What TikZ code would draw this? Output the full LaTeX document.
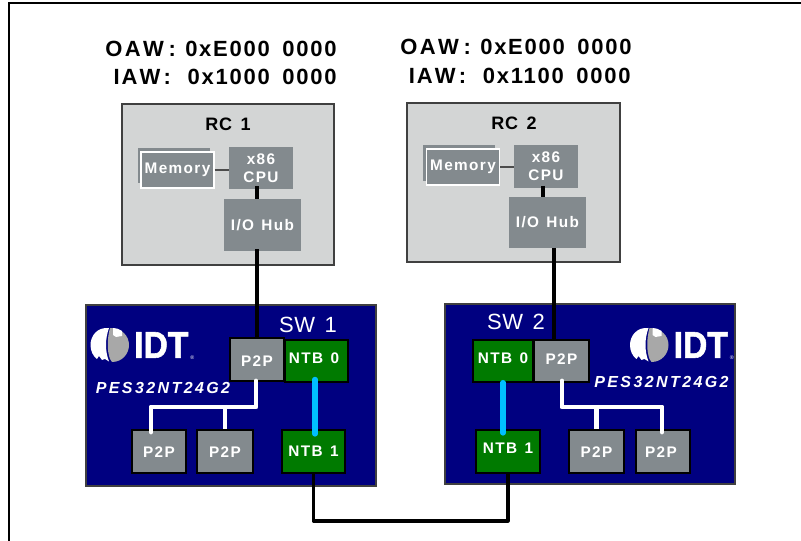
\documentclass[tikz,border=0pt]{standalone}
\usepackage{fontspec}
\setmainfont{Liberation Sans}
\newfontfamily\awfont[LetterSpace=8,WordSpace=1.6]{Liberation Sans}
\newfontfamily\chipfont[LetterSpace=9,WordSpace=1.3]{Liberation Sans}
\newfontfamily\rcfont[LetterSpace=4,WordSpace=1.5]{Liberation Sans}
\newfontfamily\partfont[LetterSpace=15]{Liberation Sans}
\newfontfamily\swfont[LetterSpace=3]{Liberation Sans}
\newfontfamily\logofont[BoldFeatures={FakeBold=1.5,FakeStretch=0.9}]{Liberation Sans}
\definecolor{rcgray}{HTML}{D3D5D5}
\definecolor{chipgray}{HTML}{838A8E}
\definecolor{swnavy}{HTML}{000080}
\definecolor{ntbgreen}{HTML}{007A00}
\definecolor{linkcyan}{HTML}{00BFFF}
\definecolor{logogray}{HTML}{A8A8A8}
\newcommand{\oawtext}{O\kern1.8pt A\kern1.8pt W\kern3.5pt:\hspace{7pt}}
\newcommand{\iawtext}{I\kern1.3pt A\kern1.6pt W\kern2.5pt:\hspace{12.5pt}}
\tikzset{
    rcbox/.style={draw=black!75,line width=0.9pt,fill=rcgray},
    swbox/.style={draw=black!75,line width=0.9pt,fill=swnavy},
    chipbox/.style={fill=chipgray,text=white,align=center,inner sep=0pt,font=\chipfont\bfseries\fontsize{11.5}{13.5}\selectfont},
    membox/.style={chipbox,draw=white,line width=0.9pt},
    p2pbox/.style={chipbox,draw=black,line width=0.9pt},
    ntbbox/.style={p2pbox,fill=ntbgreen},
    textlift/.style={text height=#1,text depth=0pt},
    awlabel/.style={font=\awfont\bfseries\fontsize{16.5}{18}\selectfont,inner sep=0pt},
    rclabel/.style={font=\rcfont\bfseries\fontsize{13.5}{14}\selectfont,inner sep=0pt},
    swlabel/.style={font=\swfont\fontsize{16.5}{18}\selectfont,text=white,inner sep=0pt},
    partlabel/.style={font=\partfont\bfseries\itshape\fontsize{12}{13}\selectfont,text=white,inner sep=0pt},
    blackbus/.style={line width=2.6pt,black},
    thinbus/.style={line width=2.3pt,black},
    whitebus/.style={line width=3.7pt,white,line cap=round,line join=round},
    cyanbus/.style={line width=3.9pt,linkcyan,line cap=round},
    pics/idtlogo/.style={code={
        \fill[white] (-1,-17) .. controls (-13,-18) and (-19.5,-9) .. (-19.5,0) .. controls (-19.5,6) and (-17,11) .. (-13,14) -- (-11,11) -- (-8,15) -- (-5,14) -- (-1,16.5) .. controls (-5,6) and (-5,-6) .. (-1,-17);
        \fill[logogray] (0,-17) .. controls (12,-17) and (19,-9) .. (19,0) .. controls (19,9) and (12,17) .. (2,17) -- (0,14) .. controls (-3,6) and (-3,-6) .. (0,-17);
        \fill[white] (3,-17) -- (3,-10) -- (6,-8) -- (12,-9) -- (12,-14) .. controls (9,-16) and (6,-17) .. (3,-17);
        \node[text=white,inner sep=0pt,anchor=west,font=\logofont\bfseries\fontsize{28}{28}\selectfont] (-name) at (24,0) {IDT};
        \node[text=white,inner sep=0pt,anchor=west,font=\fontsize{4}{4}\selectfont] (-mark) at (80,13) {®};
    }},
}
\begin{document}
\begin{tikzpicture}[x=0.75pt,y=-0.75pt]
    \useasboundingbox (0,0) rectangle (801,541);
    \coordinate (frameb) at (9,541);
    \coordinate (framec) at (9,3);
    \coordinate (framer) at (801,3);
    \draw[line width=1.9pt] (frameb)--(framec)--(framer);

    % address windows
    \node[awlabel,anchor=east] (oawone) at (337,49) {\oawtext 0xE000 0000};
    \node[awlabel,anchor=east] (iawone) at (337,77) {\iawtext 0x1000 0000};
    \node[awlabel,anchor=east] (oawtwo) at (632,47) {\oawtext 0xE000 0000};
    \node[awlabel,anchor=east] (iawtwo) at (631,76) {\iawtext 0x1100 0000};

    % root complex 1
    \draw[rcbox] (122,104) rectangle (334,265);
    \node[rclabel] (rcone) at (228,124) {RC 1};
    \fill[chipgray] (138,148) rectangle (210,183);
    \node[membox,minimum width=73pt*0.75,minimum height=36pt*0.75] (memone) at (177.5,170) {Memory};
    \node[chipbox,minimum width=64pt*0.75,minimum height=42pt*0.75] (cpuone) at (261,168) {x86\\CPU};
    \node[chipbox,minimum width=77pt*0.75,minimum height=52pt*0.75] (hubone) at (262.5,225) {I/O Hub};
    \draw[line width=1.5pt,black!70] (memone.east)--(memone.east -| cpuone.west);

    % root complex 2
    \draw[rcbox] (407,103) rectangle (620,262);
    \node[rclabel] (rctwo) at (514,123) {RC 2};
    \fill[chipgray] (423,145) rectangle (495,181);
    \node[membox,minimum width=73pt*0.75,minimum height=36pt*0.75] (memtwo) at (463,167) {Memory};
    \node[chipbox,minimum width=64pt*0.75,minimum height=43pt*0.75] (cputwo) at (546,166.5) {x86\\CPU};
    \node[chipbox,minimum width=77pt*0.75,minimum height=51pt*0.75] (hubtwo) at (547.5,222.5) {I/O Hub};
    \draw[line width=1.5pt,black!70] (memtwo.east)--(memtwo.east -| cputwo.west);

    % switch 1
    \draw[swbox] (86,305) rectangle (376,486);
    \node[swlabel] (swone) at (308,325) {SW\ \hspace{2pt}1};
    \pic (logoone) at (110,345) {idtlogo};
    \node[partlabel] (partone) at (163,388) {PES32NT24G2};
    \node[p2pbox,textlift=10.4pt,minimum width=54pt*0.75,minimum height=43pt*0.75] (p2pone) at (257,359.5) {P2P};
    \node[ntbbox,textlift=3.8pt,minimum width=63pt*0.75,minimum height=42pt*0.75] (ntbzero) at (316.5,361) {NTB 0\kern3.7pt};
    \node[p2pbox,textlift=9.7pt,minimum width=54pt*0.75,minimum height=43pt*0.75] (p2poa) at (159,451.5) {P2P};
    \node[p2pbox,textlift=9.7pt,minimum width=56pt*0.75,minimum height=43pt*0.75] (p2pob) at (225,451.5) {P2P};
    \node[ntbbox,minimum width=63pt*0.75,minimum height=43pt*0.75] (ntbone) at (313.5,451.5) {NTB 1};

    % switch 2
    \draw[swbox] (445,304) rectangle (735,484);
    \node[swlabel] (swtwo) at (516,322) {SW\ \hspace{2pt}2};
    \pic (logotwo) at (649.5,345) {idtlogo};
    \node[partlabel] (parttwo) at (661.5,382) {PES32NT24G2};
    \node[ntbbox,textlift=3.8pt,minimum width=60pt*0.75,minimum height=42pt*0.75] (ntbtwo) at (503,361) {NTB 0};
    \node[p2pbox,textlift=5.2pt,minimum width=55pt*0.75,minimum height=42pt*0.75] (p2ptwo) at (561.5,361) {P2P};
    \node[ntbbox,textlift=3pt,minimum width=64pt*0.75,minimum height=43pt*0.75] (ntbthree) at (508,451.5) {NTB 1};
    \node[p2pbox,textlift=9.7pt,minimum width=55pt*0.75,minimum height=43pt*0.75] (p2pta) at (596.5,451.5) {P2P};
    \node[p2pbox,textlift=9.7pt,minimum width=54pt*0.75,minimum height=43pt*0.75] (p2ptb) at (663,451.5) {P2P\kern3pt};

    % links between chips
    \coordinate (cputap) at (543,186);
    \coordinate (hubtap) at (554,248);
    \coordinate (p2ptap) at (554,340);
    \draw[blackbus] (p2pone.north |- cpuone.south)++(0,-3)--(p2pone.north |- hubone.north);
    \draw[blackbus] (p2pone.north |- hubone.south)++(0,-2)--(p2pone.north);
    \draw[blackbus] (cputap)--(cputap |- hubtwo.north);
    \draw[thinbus] (hubtap)--(p2ptap);

    % links inside the switches
    \coordinate (busone) at (256,381);
    \coordinate (bustwo) at (562,381);
    \draw[whitebus] (busone)--(256,407)--(151,407)--(151,432);
    \draw[whitebus,line cap=butt] (p2pob.north |- 0,405)--(p2pob.north);
    \draw[whitebus] (bustwo)--(562,407)--(662,407)--(662,432);
    \draw[whitebus,line cap=butt] (p2pta.north |- 0,405)--(p2pta.north);
    \draw[cyanbus] (ntbone.north)++(1.5,-50)--(315,434);
    \draw[cyanbus] (ntbtwo.south)--(503,433);

    % link between the switches
    \draw[thinbus,line join=round] (ntbone.south)--(ntbone.south |- 0,521)--(ntbthree.south |- 0,521)--(ntbthree.south);
\end{tikzpicture}
\end{document}
